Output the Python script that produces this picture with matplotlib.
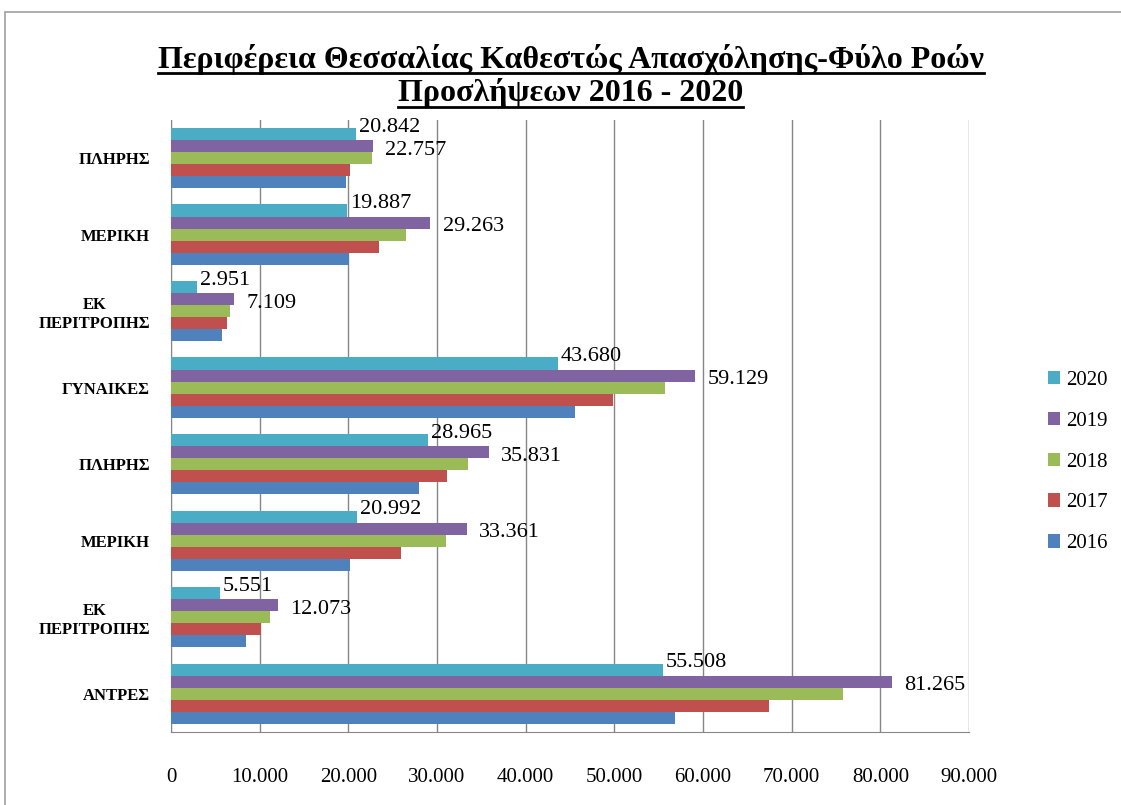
import numpy as np
import matplotlib
matplotlib.use("Agg")
import matplotlib.pyplot as plt
from matplotlib.patches import Rectangle
from matplotlib.lines import Line2D

plt.rcParams['font.family'] = ['Liberation Serif', 'DejaVu Serif']

# categories bottom -> top
categories = ['ΑΝΤΡΕΣ', 'ΕΚ\nΠΕΡΙΤΡΟΠΗΣ', 'ΜΕΡΙΚΗ', 'ΠΛΗΡΗΣ',
              'ΓΥΝΑΙΚΕΣ', 'ΕΚ\nΠΕΡΙΤΡΟΠΗΣ', 'ΜΕΡΙΚΗ', 'ΠΛΗΡΗΣ']
years = ['2016', '2017', '2018', '2019', '2020']
v2016 = [56830, 8470, 20180, 27960, 45530, 5710, 20030, 19730]
v2017 = [67490, 10180, 25950, 31120, 49900, 6280, 23450, 20220]
v2018 = [75820, 11200, 31020, 33480, 55720, 6690, 26500, 22630]
v2019 = [81265, 12073, 33361, 35831, 59129, 7109, 29263, 22757]
v2020 = [55508, 5551, 20992, 28965, 43680, 2951, 19887, 20842]
series = [v2016, v2017, v2018, v2019, v2020]
colors = ['#4F81BD', '#C0504D', '#9BBB59', '#8064A2', '#4BACC6']

def fmt(v):
    return f"{v:,}".replace(',', '.')

fig = plt.figure(figsize=(11.21, 8.05), dpi=100)
ax = fig.add_axes([0.1525, 0.0907, 0.7119, 0.7603])

y = np.arange(len(categories))
h = 0.158
for i, (vals, c, yr) in enumerate(zip(series, colors, years)):
    ax.barh(y + (i - 2) * h, vals, height=h, color=c, label=yr, zorder=3)

# data labels for 2019 and 2020 only
for j in range(len(categories)):
    ax.annotate(fmt(v2020[j]), (v2020[j], y[j] + 2 * h), xytext=(2, 5),
                textcoords='offset points', ha='left', va='center', fontsize=16, zorder=5)
    ax.annotate(fmt(v2019[j]), (v2019[j], y[j] + h), xytext=(9, -3),
                textcoords='offset points', ha='left', va='center', fontsize=16, zorder=5)

ax.set_xlim(0, 90000)
ax.set_ylim(-0.5, len(categories) - 0.5)
ax.set_xticks(np.arange(0, 90001, 10000))
ax.set_xticklabels([fmt(t) for t in range(0, 90001, 10000)], fontsize=15)
ax.set_yticks(y)
ax.set_yticklabels(categories, fontsize=12, fontweight='bold', multialignment='center')
ax.tick_params(axis='x', length=0, pad=26)
ax.tick_params(axis='y', length=0, pad=15)
ax.grid(axis='x', color='#868686', linewidth=1, zorder=0)
for s in ['top', 'right']:
    ax.spines[s].set_visible(False)
for s in ['left', 'bottom']:
    ax.spines[s].set_color('#868686')

handles, labels = ax.get_legend_handles_labels()
ax.legend(handles[::-1], labels[::-1], loc='center left', bbox_to_anchor=(0.918, 0.426),
          bbox_transform=fig.transFigure, frameon=False, fontsize=15,
          handlelength=0.6, handleheight=0.6, handletextpad=0.3, labelspacing=1.05)

t1 = fig.text(0.509, 0.926, 'Περιφέρεια Θεσσαλίας Καθεστώς Απασχόλησης-Φύλο Ροών',
              ha='center', va='center', fontsize=23, fontweight='bold')
t2 = fig.text(0.509, 0.884, 'Προσλήψεων 2016 - 2020',
              ha='center', va='center', fontsize=23, fontweight='bold')

# outer chart frame
fig.patches.append(Rectangle((5 / 1121, -0.01), 1.1, 1 - 12 / 805 + 0.01,
                             transform=fig.transFigure, fill=False,
                             edgecolor='#A0A0A0', linewidth=1.2))

# underline title lines
fig.canvas.draw()
r = fig.canvas.get_renderer()
for t in [t1, t2]:
    bb = t.get_window_extent(r).transformed(fig.transFigure.inverted())
    fig.add_artist(Line2D([bb.x0, bb.x1], [bb.y0 + 0.002, bb.y0 + 0.002],
                          transform=fig.transFigure, color='black', linewidth=2))

fig.savefig('out.png', dpi=100)
